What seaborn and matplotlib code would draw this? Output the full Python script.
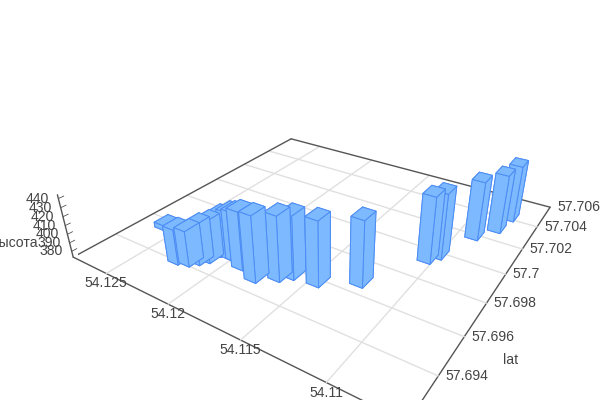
import numpy as np
import pandas as pd
import matplotlib
matplotlib.use("Agg")
import matplotlib.pyplot as plt
from matplotlib.transforms import Affine2D
import seaborn as sns

# data
lat = [57.70423, 57.70301, 57.70198, 57.69943, 57.69992, 57.69677, 57.69594, 57.69581,
       57.69543, 57.69492, 57.69525, 57.69553, 57.69553, 57.69547, 57.69493, 57.69462,
       57.69434, 57.6942, 57.69564]
lon = [54.10789, 54.10814, 54.10903, 54.11041, 54.11004, 54.11254, 54.11457, 54.11610,
       54.11665, 54.11771, 54.11910, 54.11994, 54.12033, 54.12105, 54.12116, 54.12151,
       54.12192, 54.1226, 54.12618]
height = [440.0, 441.4, 441.3, 448.2, 447.4, 445.9, 445.2, 443.5, 445.3, 446.4, 438.6,
          429.7, 427.6, 421.2, 420.7, 419.1, 413.7, 413.4, 379.0]
lat_ticks = [57.694, 57.696, 57.698, 57.7, 57.702, 57.704, 57.706]
lon_ticks = [54.11, 54.115, 54.12, 54.125]
z_ticks = [380, 390, 400, 410, 420, 430, 440]
lat_range = (57.692, 57.706)
lon_range = (54.106, 54.128)
z_range = (373, 444)
bar_dlat, bar_dlon = 0.00076, 0.00082

df = pd.DataFrame({"lat": lat, "lon": lon, "height": height})

sns.set_theme(style="white", rc={"font.family": ["Liberation Sans"], "font.size": 10.1})
bar_color = "#7db9ff"
edge_color = "#4d8df5"
text_color = "#444444"
axis_color = "#555555"
grid_color = "#e0e0e0"

fig = plt.figure(figsize=(6, 4), dpi=100)
ax = fig.add_axes([0.1307, -0.1295, 0.812, 1.218], projection="3d", computed_zorder=False)
ax.patch.set_alpha(0)
ax.set_xlim(*lat_range); ax.set_ylim(*lon_range); ax.set_zlim(*z_range)
ax.view_init(elev=28.7632, azim=-146.7044)
ax.set_proj_type("persp", focal_length=0.2218)
ax.set_box_aspect((1, 1.0146, 0.1932))
ax.grid(False)

for a in (ax.xaxis, ax.yaxis, ax.zaxis):
    a.pane.set_visible(False)
    a.line.set_color(axis_color)
    a.line.set_linewidth(1.0)
    a._axinfo["tick"]["color"] = axis_color
    a._axinfo["tick"]["linewidth"] = {True: 0.6, False: 0.4}

ax.set_xticks(lat_ticks); ax.set_xticklabels([str(v) for v in lat_ticks])
ax.set_yticks(lon_ticks); ax.set_yticklabels([str(v) for v in lon_ticks])
ax.set_zticks(z_ticks); ax.set_zticklabels([str(v) for v in z_ticks])
for a in (ax.xaxis, ax.yaxis):
    a._axinfo["tick"]["inward_factor"] = 0
    a._axinfo["tick"]["outward_factor"] = 0
ax.zaxis._axinfo["tick"]["inward_factor"] = 0
ax.zaxis._axinfo["tick"]["outward_factor"] = 0.2
# pad -8 cancels mplot3d's built-in label offset, so a label starts on its tick
ax.tick_params(axis="both", pad=-8, labelsize=10.1, labelcolor=text_color, colors=axis_color)


def nudge(artist, dx, dy):
    artist.set_transform(ax.transData + Affine2D().translate(dx, dy))
    artist.set_transform = lambda *_: None


for t in ax.xaxis.get_major_ticks():
    t.label1.set_ha("left"); t.label1.set_va("center"); nudge(t.label1, 7, 0)
for t in ax.yaxis.get_major_ticks():
    t.label1.set_ha("center"); t.label1.set_va("center"); nudge(t.label1, 0, -10)
for t in ax.zaxis.get_major_ticks():
    t.label1.set_ha("right"); t.label1.set_va("center"); nudge(t.label1, -9, 0)

# floor grid
z0 = z_range[0]
for v in lat_ticks[:-1]:
    ax.plot([v, v], lon_range, [z0, z0], color=grid_color, lw=1, zorder=1)
for v in lon_ticks:
    ax.plot(lat_range, [v, v], [z0, z0], color=grid_color, lw=1, zorder=1)
ax.plot([lat_range[1], lat_range[1]], lon_range, [z0, z0], color=axis_color, lw=1, zorder=2)
ax.plot(lat_range, [lon_range[1], lon_range[1]], [z0, z0], color=axis_color, lw=1, zorder=2)

# bars back to front, by distance along the viewing direction
order = df.assign(depth=0.836 * (df["lat"] - lat_range[0]) / np.ptp(lat_range)
                  + 0.557 * (df["lon"] - lon_range[0]) / np.ptp(lon_range)).sort_values("depth", ascending=False)
for i, row in enumerate(order.itertuples()):
    ax.bar3d(row.lat - bar_dlat / 2, row.lon - bar_dlon / 2, z0, bar_dlat, bar_dlon, row.height - z0,
             color=bar_color, edgecolor=edge_color, linewidth=0.7, shade=False, zorder=10 + i)

ax.text2D(511 / 600, 1 - 360 / 400, "lat", transform=fig.transFigure, ha="center", va="center",
          color=text_color, fontsize=10.1)
ax.text2D(38 / 600, 1 - 243 / 400, "высота", transform=fig.transFigure, ha="right", va="center",
          color=text_color, fontsize=10.1)

fig.savefig("out.png", dpi=100)
